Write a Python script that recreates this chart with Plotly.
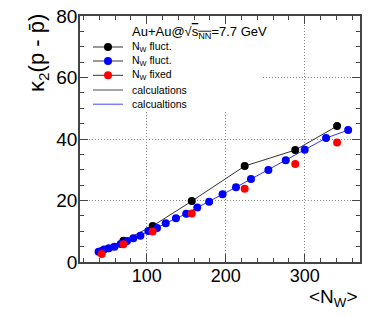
import plotly.graph_objects as go

# Data
nw_classes = [43, 70.5, 107.5, 157, 224, 288, 341]
k2_fluct_black = [3.6, 6.9, 11.7, 19.8, 31.2, 36.4, 44.2]
k2_fixed_red = [2.6, 5.75, 9.9, 15.8, 23.8, 31.9, 38.9]

nw_fine = [39, 46, 52, 59, 67, 75, 83, 92, 102, 113, 124, 137, 150, 164,
           179, 196, 213, 232, 254, 276, 300, 327, 355]
k2_fluct_blue = [3.35, 4.1, 4.45, 5.0, 5.85, 6.8, 7.7, 8.55, 10.1, 11.05,
                 12.6, 14.2, 15.7, 17.7, 19.6, 22.0, 24.3, 27.0, 29.9, 33.1,
                 36.5, 40.3, 42.9]

legend_header = "Au+Au@√<span style='text-decoration:overline'>s<sub>NN</sub></span>=7.7 GeV"
legend_names = ["N<sub>W</sub> fluct.", "N<sub>W</sub> fluct.", "N<sub>W</sub> fixed",
                "calculations", "calcualtions"]

FONT = "Liberation Sans, Arial, sans-serif"
fig = go.Figure()

# calculation lines
fig.add_trace(go.Scatter(x=nw_classes, y=k2_fluct_black, mode="lines",
                         line=dict(color="#333333", width=1), showlegend=False))
fig.add_trace(go.Scatter(x=nw_fine, y=k2_fluct_blue, mode="lines",
                         line=dict(color="#3333ff", width=1), showlegend=False))
# markers
fig.add_trace(go.Scatter(x=nw_classes, y=k2_fluct_black, mode="markers",
                         marker=dict(color="black", size=8), showlegend=False))
fig.add_trace(go.Scatter(x=nw_fine, y=k2_fluct_blue, mode="markers",
                         marker=dict(color="#0000ff", size=8), showlegend=False))
fig.add_trace(go.Scatter(x=nw_classes, y=k2_fixed_red, mode="markers",
                         marker=dict(color="#ff0000", size=8), showlegend=False))

axis_common = dict(showline=True, linecolor="#444444", linewidth=1.5, mirror="ticks",
                   ticks="inside", ticklen=8, tickcolor="#444444", tickwidth=1,
                   showgrid=True, gridcolor="#8a8a8a", griddash="1px,2px", gridwidth=1,
                   zeroline=False, ticklabeloverflow="allow", automargin=False)

fig.update_xaxes(range=[15.5, 370], dtick=100, tick0=0, ticklabelstandoff=-3,
                 tickfont=dict(family=FONT, size=18, color="black"),
                 minor=dict(dtick=20, ticks="inside", ticklen=4, tickcolor="#444444", showgrid=False),
                 **axis_common)
fig.update_yaxes(range=[0, 80], dtick=20, tick0=0, ticklabelstandoff=-3,
                 tickfont=dict(family=FONT, size=19, color="black"),
                 minor=dict(dtick=5, ticks="inside", ticklen=4, tickcolor="#444444", showgrid=False),
                 **axis_common)

# ---- manual legend (paper coordinates of the plot area) ----
PX0, PW, PY0, PH = 80.0, 280.0, 262.0, 246.0   # plot area in page px


def px(x):
    return (x - PX0) / PW


def py(y):
    return (PY0 - y) / PH


shapes = [dict(type="rect", xref="paper", yref="paper", layer="above",
               x0=px(89), x1=px(263), y0=py(111), y1=py(25),
               fillcolor="white", line=dict(width=0))]
annotations = [dict(text=legend_header, xref="paper", yref="paper", x=px(130), y=py(33),
                    xanchor="left", yanchor="middle", showarrow=False,
                    font=dict(family=FONT, size=13, color="black"))]
entry_y = [47, 61, 75.3, 90, 104.3]
line_cols = ["#333333", "#333333", "#333333", "#888888", "#8080ff"]
marker_cols = ["black", "#0000ff", "#ff0000", None, None]
for name, yy, lc, mc in zip(legend_names, entry_y, line_cols, marker_cols):
    shapes.append(dict(type="line", xref="paper", yref="paper", layer="above",
                       x0=px(93), x1=px(123), y0=py(yy), y1=py(yy),
                       line=dict(color=lc, width=1.5 if mc is None else 1)))
    if mc is not None:
        shapes.append(dict(type="circle", xref="paper", yref="paper", layer="above",
                           x0=px(104), x1=px(112), y0=py(yy + 4), y1=py(yy - 4),
                           fillcolor=mc, line=dict(color=mc, width=0)))
    annotations.append(dict(text=name, xref="paper", yref="paper", x=px(130), y=py(yy),
                            xanchor="left", yanchor="middle", showarrow=False,
                            font=dict(family=FONT, size=10.5, color="black")))

annotations += [
    dict(text="κ<sub>2</sub>(p - p\u0304)", xref="paper", yref="paper",
         x=px(38), y=py(12), xanchor="center", yanchor="top", textangle=-90,
         showarrow=False, font=dict(family=FONT, size=22, color="black")),
    dict(text="<N<sub>W</sub>>", xref="paper", yref="paper",
         x=1.0, y=py(284), xanchor="right", yanchor="top",
         showarrow=False, font=dict(family=FONT, size=19, color="black")),
]

# page body has an 8px margin; compensate so the plot area sits where the reference has it
fig.update_layout(
    width=366, height=309,
    margin=dict(l=72, r=14, t=8, b=55, autoexpand=False),
    plot_bgcolor="white", paper_bgcolor="white",
    font=dict(family=FONT, color="black"),
    showlegend=False,
    shapes=shapes,
    annotations=annotations,
)

fig.write_html("out.html")
